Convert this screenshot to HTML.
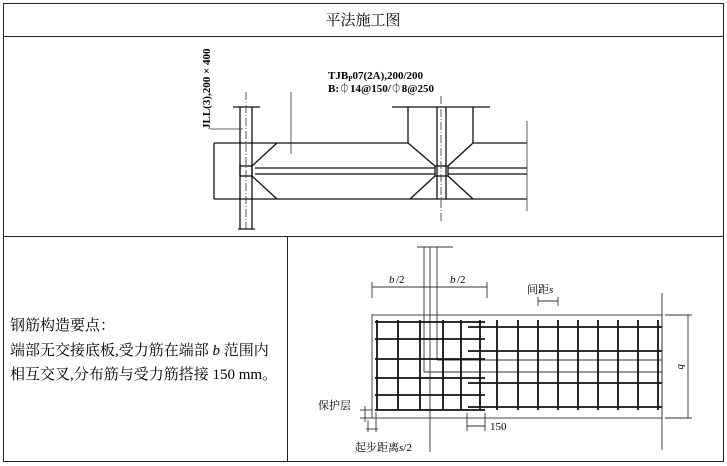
<!DOCTYPE html>
<html><head><meta charset="utf-8"><style>
body{margin:0;background:#fff;width:727px;height:466px;overflow:hidden}
svg{display:block}
text{font-family:"Liberation Serif","Noto Serif CJK SC",serif;fill:#000}
</style></head><body>
<svg width="727" height="466" viewBox="0 0 727 466">
<g fill="none" stroke="#222" stroke-width="1">
<rect x="3.5" y="3.5" width="720" height="458"/>
<line x1="3" y1="36.5" x2="724" y2="36.5"/>
<line x1="3" y1="236.5" x2="724" y2="236.5"/>
<line x1="287.5" y1="236" x2="287.5" y2="462"/>
</g>
<text x="363" y="25" font-size="15" text-anchor="middle">平法施工图</text>
<!-- top drawing -->
<g fill="none" stroke="#111" stroke-width="1.3">
<line x1="214" y1="143" x2="408" y2="143"/><line x1="473" y1="143" x2="527" y2="143"/>
<line x1="214" y1="199" x2="527" y2="199"/>
<line x1="214" y1="143" x2="214" y2="199"/>
<line x1="255" y1="168" x2="435" y2="168"/><line x1="255" y1="174" x2="435" y2="174"/>
<line x1="448" y1="168" x2="527" y2="168"/><line x1="448" y1="174" x2="527" y2="174"/>
<line x1="240" y1="107" x2="240" y2="229"/><line x1="252" y1="107" x2="252" y2="229"/>
<line x1="233" y1="107" x2="260" y2="107"/><line x1="238" y1="229" x2="255" y2="229"/>
<rect x="240" y="166" width="12" height="10"/>
<line x1="252" y1="166" x2="277" y2="143"/><line x1="252" y1="176" x2="277" y2="199"/>
<line x1="437" y1="107" x2="437" y2="199"/><line x1="446" y1="107" x2="446" y2="199"/>
<rect x="435" y="166" width="13" height="10"/>
<line x1="392" y1="107" x2="490" y2="107"/>
<line x1="408" y1="107" x2="408" y2="143"/><line x1="408" y1="143" x2="435" y2="166"/>
<line x1="473" y1="107" x2="473" y2="143"/><line x1="473" y1="143" x2="448" y2="166"/>
<line x1="435" y1="176" x2="410" y2="199"/><line x1="448" y1="176" x2="473" y2="199"/>
</g>
<g fill="none" stroke="#333" stroke-width="0.8">
<line x1="246" y1="92" x2="246" y2="229" stroke-dasharray="8,2,1,2"/>
<line x1="441" y1="96" x2="441" y2="222" stroke-dasharray="8,2,1,2"/>
<line x1="210" y1="129" x2="243" y2="129"/>
<line x1="291" y1="92" x2="291" y2="154"/>
<line x1="527" y1="121" x2="527" y2="211"/>
</g>
<text transform="translate(210,129) rotate(-90)" font-size="11" font-weight="bold">JLL(3),200 × 400</text>
<text x="328" y="79" font-size="11" font-weight="bold">TJB<tspan font-size="7" dy="2">P</tspan><tspan dy="-2">07(2A),200/200</tspan></text>
<text x="328" y="92" font-size="11" font-weight="bold">B:⏀14@150/⏀8@250</text>
<!-- left text -->
<g font-size="15">
<text x="10" y="330">钢筋构造要点：</text>
<text x="10" y="355">端部无交接底板,受力筋在端部 <tspan font-style="italic">b</tspan> 范围内</text>
<text x="10" y="379">相互交叉,分布筋与受力筋搭接 150 mm。</text>
</g>
<!-- bottom drawing -->
<g fill="none" stroke="#333" stroke-width="0.9">
<rect x="372" y="315" width="290" height="103"/>
<line x1="662" y1="293" x2="662" y2="450"/>
<line x1="430" y1="247" x2="430" y2="452"/>
<line x1="424" y1="247" x2="424" y2="372"/><line x1="437" y1="247" x2="437" y2="360"/>
<line x1="424" y1="372" x2="662" y2="372"/><line x1="437" y1="360" x2="662" y2="360"/>
<line x1="417" y1="247" x2="453" y2="247"/>
<line x1="372" y1="287" x2="487" y2="287"/>
<line x1="372" y1="282" x2="372" y2="298"/><line x1="487" y1="282" x2="487" y2="298"/>
<line x1="538" y1="301" x2="558" y2="301"/>
<line x1="538" y1="297" x2="538" y2="306"/><line x1="558" y1="297" x2="558" y2="306"/>
<line x1="665" y1="315" x2="692" y2="315"/><line x1="665" y1="418" x2="692" y2="418"/>
<line x1="688" y1="315" x2="688" y2="418"/>
<line x1="467" y1="426" x2="485" y2="426"/>
<line x1="467" y1="413" x2="467" y2="431"/><line x1="485" y1="413" x2="485" y2="431"/>
<line x1="360" y1="418" x2="372" y2="418"/><line x1="360" y1="410" x2="372" y2="410"/>
<line x1="365" y1="406" x2="365" y2="422"/>
<line x1="368" y1="420" x2="368" y2="432"/><line x1="376" y1="412" x2="376" y2="432"/>
<line x1="366" y1="429" x2="378" y2="429"/>
</g>
<g fill="none" stroke="#111" stroke-width="1.8">
<path d="M377 320V410M398 320V410M420 320V410M443 320V410M461 320V410M480 320V410"/>
<path d="M375 322H485M375 339H485M375 359H485M375 378H485M375 395H485M375 410H485"/>
<path d="M497 320V410M518 320V410M538 320V410M558 320V410M578 320V410M598 320V410M618 320V410M638 320V410M658 320V410"/>
<path d="M468 327H662M468 351H662M468 383H662M468 407H662"/>
</g>
<g font-size="11">
<text x="389" y="283" font-style="italic">b</text><text x="396" y="283">/2</text>
<text x="450" y="283" font-style="italic">b</text><text x="457" y="283">/2</text>
<text x="527" y="293">间距<tspan font-style="italic">s</tspan></text>
<text transform="translate(678,364) rotate(90)" font-style="italic">b</text>
<text x="318" y="409">保护层</text>
<text x="490" y="430">150</text>
<text x="355" y="451">起步距离<tspan font-style="italic">s</tspan>/2</text>
</g>
</svg>
</body></html>
